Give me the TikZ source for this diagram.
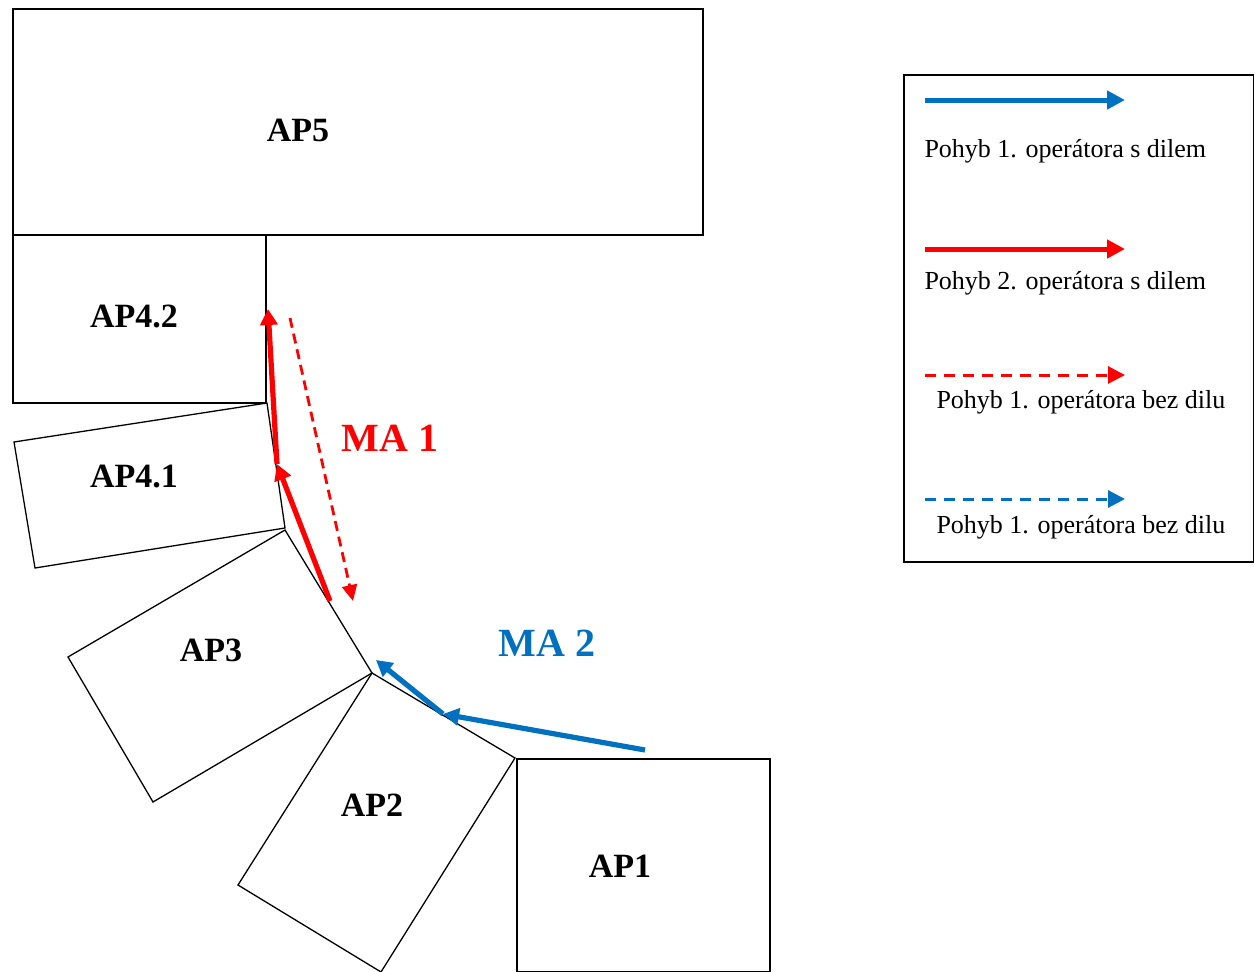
\documentclass[tikz,border=0pt]{standalone}
\usepackage{fontspec}
\setmainfont{Liberation Serif}
\usetikzlibrary{arrows.meta}
\definecolor{mblue}{RGB}{0,112,192}
\definecolor{mred}{RGB}{255,0,0}
\begin{document}
\begin{tikzpicture}[x=1pt,y=-1pt,
  box/.style={draw=black,line width=1.3pt},
  aplabel/.style={font=\fontsize{34}{40}\selectfont\bfseries},
  malabel/.style={font=\fontsize{40}{46}\selectfont\bfseries},
  legtext/.style={font=\fontsize{26}{30}\selectfont,anchor=west},
  solidarrow/.style={line width=5.2pt,-{Triangle[length=16pt,width=17pt]}},
  dasharrow/.style={line width=2.8pt,dash pattern=on 10pt off 6pt,-{Triangle[length=16pt,width=15pt]}},
  legsolid/.style={line width=5pt,-{Triangle[length=18pt,width=18pt]}},
  legdash/.style={line width=3pt,dash pattern=on 11pt off 8pt,-{Triangle[length=17pt,width=17pt]}}
]
\useasboundingbox (0,0) rectangle (1254,972);
% boxes
\draw[box] (13,9) rectangle (703,235);
\draw[box] (13,235) rectangle (266,403);
\draw[box] (14,442) -- (267,403) -- (285,528) -- (35,568) -- cycle;
\draw[box] (68,657) -- (285,530) -- (372,673) -- (153,802) -- cycle;
\draw[box] (372,673) -- (515,758) -- (381,972) -- (238,885) -- cycle;
\draw[box] (517,759) rectangle (770,972);
% labels
\node[aplabel] (ap5) at (298,130) {AP5};
\node[aplabel] (ap42) at (134,316) {AP4.2};
\node[aplabel] (ap41) at (134,477) {AP4.1};
\node[aplabel] (ap3) at (211,650) {AP3};
\node[aplabel] (ap2) at (372,805) {AP2};
\node[aplabel] (ap1) at (620,866) {AP1};
\node[malabel,text=mred] (ma1) at (390,438) {MA 1};
\node[malabel,text=mblue] (ma2) at (547,643) {MA 2};
% arrow points
\coordinate (r1s) at (330,601);
\coordinate (r1e) at (277,464);
\coordinate (r2e) at (268,309);
\coordinate (rds) at (290,318);
\coordinate (rde) at (353,601);
\coordinate (b1s) at (645,750);
\coordinate (b1e) at (443,714);
\coordinate (b2e) at (376,660);
\draw[mred,solidarrow] (r1s) -- (r1e);
\draw[mred,solidarrow] (r1e) -- (r2e);
\draw[mred,dasharrow] (rds) -- (rde);
\draw[mblue,solidarrow] (b1s) -- (b1e);
\draw[mblue,solidarrow] (b1e) -- (b2e);
% legend
\draw[box] (904,75) rectangle (1253.4,562);
\coordinate (l1s) at (925,100); \coordinate (l1e) at (1125,100);
\coordinate (l2s) at (925,249); \coordinate (l2e) at (1125,249);
\coordinate (l3s) at (925,375); \coordinate (l3e) at (1125,375);
\coordinate (l4s) at (925,499); \coordinate (l4e) at (1125,499);
\draw[mblue,legsolid] (l1s) -- (l1e);
\draw[mred,legsolid] (l2s) -- (l2e);
\draw[mred,legdash] (l3s) -- (l3e);
\draw[mblue,legdash] (l4s) -- (l4e);
\node[legtext] (t1) at (921,151) {Pohyb 1. operátora s dilem};
\node[legtext] (t2) at (921,283) {Pohyb 2. operátora s dilem};
\node[legtext] (t3) at (933,402) {Pohyb 1. operátora bez dilu};
\node[legtext] (t4) at (933,527) {Pohyb 1. operátora bez dilu};
\end{tikzpicture}
\end{document}
